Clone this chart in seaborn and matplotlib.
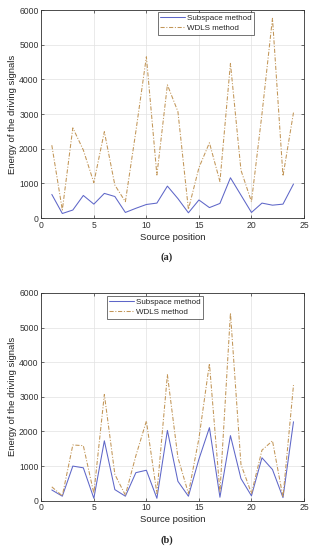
"""
plot.py

Energy of the driving signals against source position, two panels
(a) and (b), comparing the subspace method and the WDLS method.
"""

import matplotlib
matplotlib.use("Agg")
import matplotlib.pyplot as plt
import numpy as np
import pandas as pd
import seaborn as sns

positions = list(range(1, 25))

# panel (a)
subspace_a = [680, 130, 230, 650, 400, 710, 620, 160, 280, 390, 430, 920,
              560, 150, 520, 300, 420, 1160, 660, 160, 430, 370, 400, 980]
wdls_a = [2100, 230, 2600, 1960, 1020, 2490, 950, 470, 2500, 4650, 1240, 3840,
          3070, 250, 1450, 2170, 1050, 4460, 1380, 470, 3000, 5760, 1210, 3040]

# panel (b)
subspace_b = [310, 130, 1000, 950, 70, 1730, 320, 130, 810, 880, 70, 2030,
              560, 130, 1200, 2110, 100, 1880, 640, 140, 1240, 900, 90, 2280]
wdls_b = [400, 140, 1610, 1590, 210, 3070, 760, 160, 1300, 2300, 210, 3640,
          1250, 210, 1800, 3960, 250, 5420, 1050, 210, 1460, 1730, 100, 3340]

x_ticks = [0, 5, 10, 15, 20, 25]
y_ticks = [0, 1000, 2000, 3000, 4000, 5000, 6000]
series_names = ["Subspace method", "WDLS method"]
panel_tags = ["(a)", "(b)"]

SUB_COLOR = "#5e66c8"
WDLS_COLOR = "#c29658"

sns.set_theme(style="whitegrid")
plt.rcParams["font.family"] = ["Liberation Sans", "DejaVu Sans"]

W, H = 318, 550
fig = plt.figure(figsize=(W / 100, H / 100), dpi=100)


def px_axes(left, top, right, bottom):
    return fig.add_axes([left / W, 1 - bottom / H, (right - left) / W, (bottom - top) / H])


def draw_panel(ax, sub, wdls, legend_anchor):
    df = pd.DataFrame({"pos": positions, "sub": sub, "wdls": wdls})
    sns.lineplot(data=df, x="pos", y="sub", ax=ax, color=SUB_COLOR,
                 linewidth=0.75, label=series_names[0])
    sns.lineplot(data=df, x="pos", y="wdls", ax=ax, color=WDLS_COLOR,
                 linewidth=0.75, dashes=False, label=series_names[1])
    ax.lines[1].set_dashes([4, 1.6, 1, 1.6])
    ax.set_xlim(0, 25)
    ax.set_ylim(0, 6000)
    ax.set_xticks(x_ticks)
    ax.set_yticks(y_ticks)
    ax.tick_params(labelsize=6.2, length=2.5, width=0.5, direction="in",
                   top=True, right=True, bottom=True, left=True,
                   colors="#333333", pad=2)
    ax.grid(True, color="#e2e2e2", linewidth=0.5)
    for s in ax.spines.values():
        s.set_color("#333333")
        s.set_linewidth(0.6)
    ax.set_xlabel("Source position", fontsize=6.8, labelpad=2, color="#222222")
    ax.set_ylabel("Energy of the driving signals", fontsize=6.8, labelpad=1.5,
                  color="#222222")
    leg = ax.legend(loc="upper left", bbox_to_anchor=legend_anchor, fontsize=5.8,
                    frameon=True, fancybox=False, handlelength=3.0,
                    handletextpad=0.25, borderpad=0.3, labelspacing=0.3,
                    borderaxespad=0)
    leg.get_frame().set_edgecolor("#333333")
    leg.get_frame().set_linewidth(0.6)
    leg.get_lines()[1].set_dashes([4, 1.6, 1, 1.6])


ax_a = px_axes(41.3, 10, 304, 218)
draw_panel(ax_a, subspace_a, wdls_a, ((158 - 41.3) / 262.7, (218 - 12) / 208))

ax_b = px_axes(41.3, 293, 304, 500.7)
draw_panel(ax_b, subspace_b, wdls_b, ((107 - 41.3) / 262.7, (500.7 - 296) / 207.7))

for tag, y in zip(panel_tags, [256.7, 540]):
    fig.text(167 / W, 1 - y / H, tag, ha="center", va="center",
             fontsize=7.5, fontweight="bold", family="Liberation Serif")

fig.savefig("out.png", dpi=100)
